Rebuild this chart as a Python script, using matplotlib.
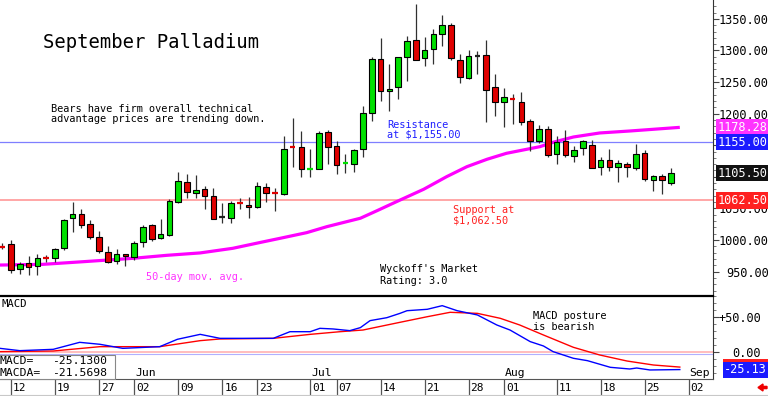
import matplotlib
matplotlib.use("Agg")
import matplotlib.pyplot as plt
from matplotlib import transforms
from matplotlib.patches import Rectangle, FancyArrow
from matplotlib.ticker import MultipleLocator

plt.rcParams['font.family'] = ['DejaVu Sans Mono', 'DejaVu Sans']

# ---------------- data (trading-day index, 0 = May 12) ----------------
days = list(range(-1, 76))
opens = [989.5, 993, 953.5, 963, 958.7, 972.5, 971, 986.8, 1035.4, 1040.8,
         1025.4, 1005.3, 981, 966.7, 977.3, 973.6, 996.3, 1023.8, 1002.6, 1008,
         1060.8, 1091.5, 1075, 1080.4, 1069.8, 1037, 1035.4, 1058.5, 1055.6, 1052,
         1083.6, 1074.5, 1073, 1147, 1146.6, 1112.5, 1112.7, 1170.4, 1148, 1121.5,
         1120.1, 1144.4, 1201, 1287, 1236.5, 1241.8, 1290.3, 1316.7, 1288.4, 1301.6,
         1326.5, 1341, 1285.7, 1257, 1292, 1293.6, 1242.5, 1218, 1223.5, 1218,
         1188, 1156, 1175.7, 1136, 1156, 1133.3, 1145.5, 1150.8, 1115.4, 1127,
         1115.4, 1120, 1113.8, 1137.6, 1095, 1100.5, 1090]
highs = [995, 1000, 965.6, 974.6, 977, 976, 987.6, 1033.3, 1059.8, 1048.7,
         1031, 1014.3, 991, 985.6, 978, 999, 1023.8, 1025.4, 1033, 1064.6,
         1107.4, 1104, 1103, 1085.7, 1082, 1058, 1061.6, 1066, 1068.8, 1091.5,
         1090, 1082, 1164, 1193, 1172, 1144.4, 1172, 1174.6, 1156, 1136.5,
         1144, 1212.7, 1289.4, 1320, 1279, 1290, 1322.8, 1373, 1322, 1334.4,
         1355.6, 1344, 1294.8, 1300.5, 1299, 1316.7, 1262.5, 1241, 1231, 1234.4,
         1191.6, 1181.4, 1181, 1164, 1174.6, 1148, 1158.7, 1158.7, 1132, 1144,
         1127, 1124, 1152, 1143, 1103, 1104, 1114]
lows = [985, 948, 945.6, 944.4, 944, 965.6, 965.6, 984, 1013, 1018.6,
        1000.9, 979.8, 964, 962.4, 958.7, 968, 989.4, 999, 1001, 1006.3,
        1058, 1067, 1067, 1048.7, 1032.8, 1027.5, 1027.5, 1048.7, 1034.4, 1050,
        1060.8, 1046.5, 1071.4, 1116.3, 1099.5, 1099.5, 1112, 1120.6, 1104.8, 1105.8,
        1107, 1132, 1187.8, 1220.6, 1204.8, 1222.5, 1251.3, 1285, 1276, 1279,
        1306.8, 1285.7, 1248.7, 1255.6, 1263.5, 1186.2, 1195.7, 1179, 1183.6, 1182.5,
        1141, 1153.5, 1132, 1120, 1131, 1124, 1135, 1113.8, 1103, 1108.4,
        1091.5, 1099.5, 1111, 1092.6, 1078, 1072.5, 1087]
closes = [989, 952, 961.4, 956.7, 971, 972, 985, 1031.7, 1040.8, 1023.8,
          1004.3, 982.5, 965.6, 977.3, 974.6, 995.8, 1021, 1001, 1009, 1062.4,
          1092.6, 1076.7, 1079.4, 1069.8, 1033.9, 1037, 1058.2, 1058, 1052, 1085.7,
          1074.1, 1074, 1144.4, 1146.6, 1112.2, 1113, 1169.3, 1147.1, 1119, 1122,
          1142.9, 1201, 1287, 1235.4, 1239.5, 1289.4, 1314.8, 1285.7, 1300.5, 1325.4,
          1341, 1288.4, 1258.2, 1291, 1292, 1238, 1218.3, 1226, 1223, 1187,
          1156, 1175.7, 1135, 1154.8, 1135, 1143, 1156, 1113.8, 1127, 1115.4,
          1121.7, 1115.4, 1136, 1096.3, 1100.5, 1095, 1105.5]

# 50-day moving average (read points)
ma_x = [-1.25, 3.6, 8.2, 13.9, 17.7, 21.5, 25.2, 28.3, 30.6, 33.6, 35.9, 39.7,
        41.6, 43.8, 46.9, 49.5, 51.8, 54.1, 56.3, 60.1, 61.7, 63.9, 66.9, 70.3, 76]
ma_y = [960.3, 961.4, 965.6, 971, 975.7, 979.5, 986.8, 996, 1002.7, 1011.6, 1021.1, 1034.4,
        1046.4, 1060.6, 1080.3, 1100.2, 1116, 1127.8, 1137.2, 1147.7, 1155, 1163, 1169.4,
        1172.5, 1178.28]

# MACD (blue) and MACDA (red)
macd_x = [-1.25, 1.0, 4.8, 7.8, 10.1, 12.7, 16.9, 18.9, 21.5, 23.75, 27.5, 29.8,
          31.7, 34, 35.1, 36.6, 38.5, 39.7, 40.8, 42.7, 44.2, 45, 47.3, 49,
          50.7, 53, 55.2, 56.7, 59, 60.5, 61.6, 63.9, 65.5, 68.1, 70.3, 71.1, 72.6, 76]
macd_y = [5.2, 1.9, 3.8, 13.8, 11, 5.2, 7.6, 18.1, 25.2, 19.5, 19.5, 19.5,
          29, 29, 33.8, 32.9, 30.5, 34.8, 44.8, 49, 55.2, 59, 61, 66.2,
          59, 52.9, 38.6, 31.4, 14.8, 8.6, 0.5, -9, -12.4, -21.9, -24.3, -22.9, -25.7, -25.13]
sig_x = [-1.25, 4.8, 10.1, 16.9, 21.5, 23.75, 29.8, 34, 37.4, 40, 44.2, 47.3,
         49.9, 53, 55.6, 57.8, 60.5, 63.9, 66.9, 70, 73, 76]
sig_y = [0.5, 1.4, 7.6, 7.6, 16.2, 18.6, 19.5, 25.2, 29, 31.4, 42.4, 50.4,
         56.7, 55.2, 48.1, 38.6, 24.3, 6.7, -4.3, -12.9, -18.6, -21.57]

resistance = 1155.00
support = 1062.50
last_price = 1105.50
ma_last = 1178.28
macd_last = -25.13
macda_last = -21.57
macd_base2 = -3.3

price_ticks = [950, 1000, 1050, 1100, 1150, 1200, 1250, 1300, 1350]
price_tick_labels = ['950.00', '1000.00', '1050.00', '', '', '1200.00', '1250.00', '1300.00', '1350.00']
macd_ticks = [50, 0]
macd_tick_labels = ['+50.00', '0.00']

date_ticks = [0, 5, 10, 14, 19, 24, 28, 34, 37, 42, 47, 52, 56, 62, 67, 72, 77]
date_labels = ['12', '19', '27', '02', '09', '16', '23', '01', '07', '14', '21',
               '28', '01', '11', '18', '25', '02']
month_ticks = [14, 34, 56, 77]
month_labels = ['Jun', 'Jul', 'Aug', 'Sep']

# ---------------- layout ----------------
W, H = 768, 396
fig = plt.figure(figsize=(W / 100, H / 100), dpi=100)
fig.patch.set_facecolor('white')


def fx(px):
    return px / W


def fy(py):
    return 1 - py / H


XL = (-1.25, 79.77)
ax = fig.add_axes([0, fy(296), fx(713), 296 / H])
mx = fig.add_axes([0, fy(379), fx(713), (379 - 296) / H])
dx = fig.add_axes([0, 0, fx(713), 17 / H])

GREEN = '#00e000'
RED = '#e00000'

# ---------------- price panel ----------------
ax.set_xlim(*XL)
ax.set_ylim(911.3, 1379.9)
ax.axhline(resistance, color='#7f7fff', lw=0.9, zorder=1)
ax.axhline(support, color='#ff9f9f', lw=1.3, zorder=1)
ax.plot(ma_x, ma_y, color='#ff00ff', lw=2.3, zorder=2, solid_capstyle='butt',
        solid_joinstyle='round')

for d, o, h, l, c in zip(days, opens, highs, lows, closes):
    ax.vlines(d, l, h, color='#303030', lw=0.9, zorder=3)
    if abs(c - o) < 1.5:
        col = GREEN if c > o else (RED if c < o else '#202020')
        ax.hlines(c, d - 0.32, d + 0.32, color=col, lw=1.6, zorder=4)
    else:
        col = GREEN if c > o else RED
        ax.bar(d, abs(c - o), bottom=min(o, c), width=0.62, color=col,
               edgecolor='black', linewidth=0.8, zorder=4)

for s in ['top', 'left', 'bottom']:
    ax.spines[s].set_visible(False)
ax.spines['right'].set_color('#333333')
ax.set_xticks([])
ax.yaxis.tick_right()
ax.set_yticks(price_ticks, price_tick_labels)
ax.yaxis.set_minor_locator(MultipleLocator(10))
ax.tick_params(axis='y', which='major', length=4, width=0.8, color='#444444',
               labelsize=8.6, pad=36)
ax.tick_params(axis='y', which='minor', length=2, width=0.6, color='#666666')
for t in ax.yaxis.get_major_ticks():
    t.label2.set_horizontalalignment('right')

bt = transforms.blended_transform_factory(fig.transFigure, ax.transData)


def vbox(trans, val, text, fc, tc='white'):
    fig.text(fx(767), val, text, transform=trans, ha='right', va='center',
             color=tc, fontsize=8.6, zorder=10,
             bbox=dict(boxstyle='square,pad=0.13', fc=fc, ec='none'))


vbox(bt, ma_last, f'{ma_last:.2f}', '#ff33ff')
vbox(bt, resistance, f'{resistance:.2f}', '#1a1aff')
vbox(bt, last_price, f'{last_price:.2f}', '#111111')
vbox(bt, support, f'{support:.2f}', '#ff2020')

# ---------------- MACD panel ----------------
mx.set_xlim(*XL)
mx.set_ylim(-38.6, 80)
mx.axhline(0, color='#ffb8b8', lw=1.3, zorder=1)
mx.axhline(macd_base2, color='#b0b0ff', lw=0.8, zorder=1)
mx.plot(sig_x, sig_y, color='#ff0000', lw=1.0, zorder=3)
mx.plot(macd_x, macd_y, color='#0000ff', lw=1.0, zorder=3)
mx.spines['left'].set_visible(False)
mx.spines['top'].set_color('black')
mx.spines['top'].set_linewidth(1.6)
mx.spines['bottom'].set_color('#555555')
mx.spines['bottom'].set_linewidth(0.8)
mx.spines['right'].set_color('#333333')
mx.set_xticks([])
mx.yaxis.tick_right()
mx.set_yticks(macd_ticks, macd_tick_labels)
mx.yaxis.set_minor_locator(MultipleLocator(10))
mx.tick_params(axis='y', which='major', length=4, width=0.8, color='#444444',
               labelsize=8.6, pad=30.5)
mx.tick_params(axis='y', which='minor', length=2, width=0.6, color='#666666')
for t in mx.yaxis.get_major_ticks():
    t.label2.set_horizontalalignment('right')

mt = transforms.blended_transform_factory(fig.transFigure, mx.transData)
vbox(mt, macda_last, f'{macda_last:.2f}', '#ff2020')
vbox(mt, macd_last, f'{macd_last:.2f}', '#1a1aff')

mlab = transforms.offset_copy(mx.transData, fig=fig, x=1, y=0, units='dots')
for mtk, lab in zip(month_ticks, month_labels):
    mx.text(mtk, -34.5, lab, transform=mlab, ha='left', va='baseline',
            fontsize=8.2, color='black', zorder=5)

# ---------------- date row ----------------
dx.set_xlim(*XL)
dx.set_ylim(0, 1)
dx.axis('off')
dlab = transforms.offset_copy(dx.transData, fig=fig, x=2, y=0, units='dots')
for dt, lab in zip(date_ticks, date_labels):
    dx.axvline(dt, ymin=0.12, ymax=1.0, color='#555555', lw=0.9)
    dx.text(dt, 0.27, lab, transform=dlab, ha='left', va='baseline',
            fontsize=8.0, color='black')
fig.add_artist(plt.Line2D([0, 1], [fy(395), fy(395)], transform=fig.transFigure,
                          color='#c8c8c8', lw=0.8))
fig.patches.append(FancyArrow(fx(767), fy(387.5), -fx(9), 0, width=2.2 / H,
                              head_width=7 / H, head_length=5 / W,
                              length_includes_head=True, color='#ee0000',
                              transform=fig.transFigure))

# ---------------- texts ----------------
fig.text(fx(43), fy(48), 'September Palladium', fontsize=13.6, ha='left', va='baseline')
fig.text(fx(51), fy(112), 'Bears have firm overall technical', fontsize=7.4, va='baseline')
fig.text(fx(51), fy(122), 'advantage prices are trending down.', fontsize=7.4, va='baseline')
fig.text(fx(387), fy(127.5), 'Resistance', fontsize=7.4, va='baseline', color='#2020ff')
fig.text(fx(387), fy(137.5), 'at $1,155.00', fontsize=7.4, va='baseline', color='#2020ff')
fig.text(fx(453), fy(213), 'Support at', fontsize=7.4, va='baseline', color='#ff2020')
fig.text(fx(453), fy(223.5), '$1,062.50', fontsize=7.4, va='baseline', color='#ff2020')
fig.text(fx(145.5), fy(280.5), '50-day mov. avg.', fontsize=7.4, va='baseline', color='#ff33ff')
fig.text(fx(380), fy(272), "Wyckoff's Market", fontsize=7.4, va='baseline')
fig.text(fx(380), fy(284), 'Rating: 3.0', fontsize=7.4, va='baseline')
fig.text(fx(533), fy(319.3), 'MACD posture', fontsize=7.4, va='baseline')
fig.text(fx(533), fy(329.5), 'is bearish', fontsize=7.4, va='baseline')
fig.text(fx(1), fy(306.7), 'MACD', fontsize=7.6, va='baseline')

fig.patches.append(Rectangle((fx(-2), fy(379)), fx(117), 24 / H, transform=fig.transFigure,
                             fc='white', ec='#888888', lw=0.8, zorder=2))
fig.text(fx(0), fy(364.5), 'MACD=', fontsize=8.2, va='baseline', zorder=4)
fig.text(fx(107), fy(364.5), '-25.1300', fontsize=8.2, va='baseline', ha='right', zorder=4)
fig.text(fx(0), fy(376), 'MACDA=', fontsize=8.2, va='baseline', zorder=4)
fig.text(fx(107), fy(376), '-21.5698', fontsize=8.2, va='baseline', ha='right', zorder=4)

fig.savefig('out.png', dpi=100, facecolor='white')
